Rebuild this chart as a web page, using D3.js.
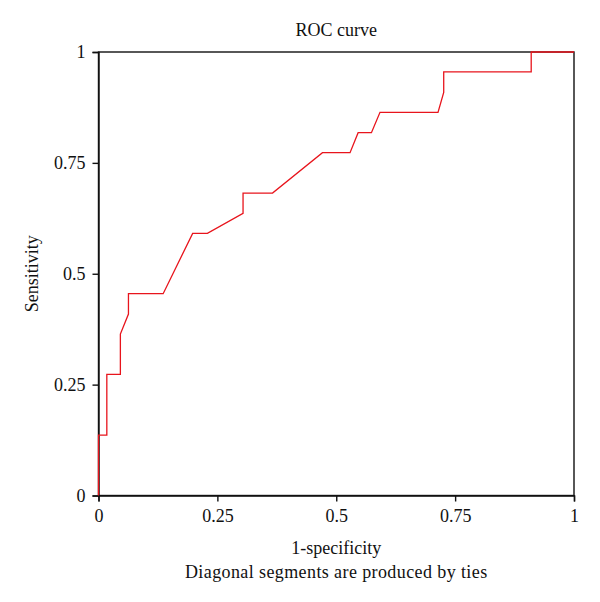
<!DOCTYPE html>
<html>
<head>
  <meta charset="UTF-8">
  <title>ROC curve</title>
  <style>
    body { margin: 0; background: #fff; }
    svg text { font-family: "Liberation Serif", "DejaVu Serif", serif; fill: #111; }
  </style>
</head>
<body>
<svg></svg>
<script src="https://d3js.org/d3.v7.min.js"></script>
<script>
    let width = 600, height = 602;

    // ROC curve points (1-specificity, sensitivity)
    var fpr  = [0, 0, 0.0175, 0.0175, 0.046, 0.046, 0.063, 0.063, 0.136, 0.198, 0.229, 0.304, 0.304, 0.366, 0.471, 0.529, 0.546, 0.574, 0.592, 0.714, 0.726, 0.726, 0.910, 0.910, 1];
    var sens = [0, 0.136, 0.136, 0.273, 0.273, 0.364, 0.409, 0.455, 0.455, 0.591, 0.591, 0.636, 0.682, 0.682, 0.773, 0.773, 0.818, 0.818, 0.864, 0.864, 0.909, 0.955, 0.955, 1, 1];
    var tickVals = [0, 0.25, 0.5, 0.75, 1];
    var tickLabels = ["0", "0.25", "0.5", "0.75", "1"];

    let svg = d3.select("svg").attr("width", width).attr("height", height);

    // plot box edges
    const pLeft = 98.5, pRight = 574, pTop = 52, pBottom = 495.5;
    const fs = "18px";

    let x = d3.scaleLinear().domain([0, 1]).range([pLeft, pRight]);
    let y = d3.scaleLinear().domain([0, 1]).range([pBottom, pTop]);

    // frame
    svg.append("rect")
        .attr("x", pLeft).attr("y", pTop)
        .attr("width", pRight - pLeft).attr("height", pBottom - pTop)
        .attr("fill", "none").attr("stroke", "#111").attr("stroke-width", 1.4);

    // axes
    let xAxis = d3.axisBottom(x).tickValues(tickVals)
        .tickFormat((d, i) => tickLabels[i]).tickSizeOuter(0).tickSize(6).tickPadding(8);
    let yAxis = d3.axisLeft(y).tickValues(tickVals)
        .tickFormat((d, i) => tickLabels[i]).tickSizeOuter(0).tickSize(6).tickPadding(7);

    let gx = svg.append("g").attr("transform", "translate(0," + pBottom + ")").call(xAxis);
    let gy = svg.append("g").attr("transform", "translate(" + pLeft + ",0)").call(yAxis);

    [gx, gy].forEach(g => {
        g.select(".domain").attr("stroke", "#111").attr("stroke-width", 1.4);
        g.selectAll(".tick line").attr("stroke", "#111").attr("stroke-width", 1.4);
        g.selectAll(".tick text").style("font-size", fs).attr("fill", "#111");
    });

    // curve
    let pts = fpr.map((f, i) => [f, sens[i]]);
    let line = d3.line().x(d => x(d[0])).y(d => y(d[1]));
    svg.append("path")
        .datum(pts)
        .attr("d", line)
        .attr("fill", "none")
        .attr("stroke", "#e8141c")
        .attr("stroke-width", 1.3);

    // titles
    svg.append("text").attr("x", (pLeft + pRight) / 2).attr("y", 36)
        .attr("text-anchor", "middle").style("font-size", fs).text("ROC curve");

    svg.append("text").attr("x", (pLeft + pRight) / 2).attr("y", 554)
        .attr("text-anchor", "middle").style("font-size", fs).text("1-specificity");

    svg.append("text").attr("x", (pLeft + pRight) / 2).attr("y", 578)
        .attr("text-anchor", "middle").style("font-size", fs).style("letter-spacing", "0.4px")
        .text("Diagonal segments are produced by ties");

    svg.append("text")
        .attr("transform", "translate(38," + ((pTop + pBottom) / 2) + ") rotate(-90)")
        .attr("text-anchor", "middle").style("font-size", fs).text("Sensitivity");
</script>
</body>
</html>
